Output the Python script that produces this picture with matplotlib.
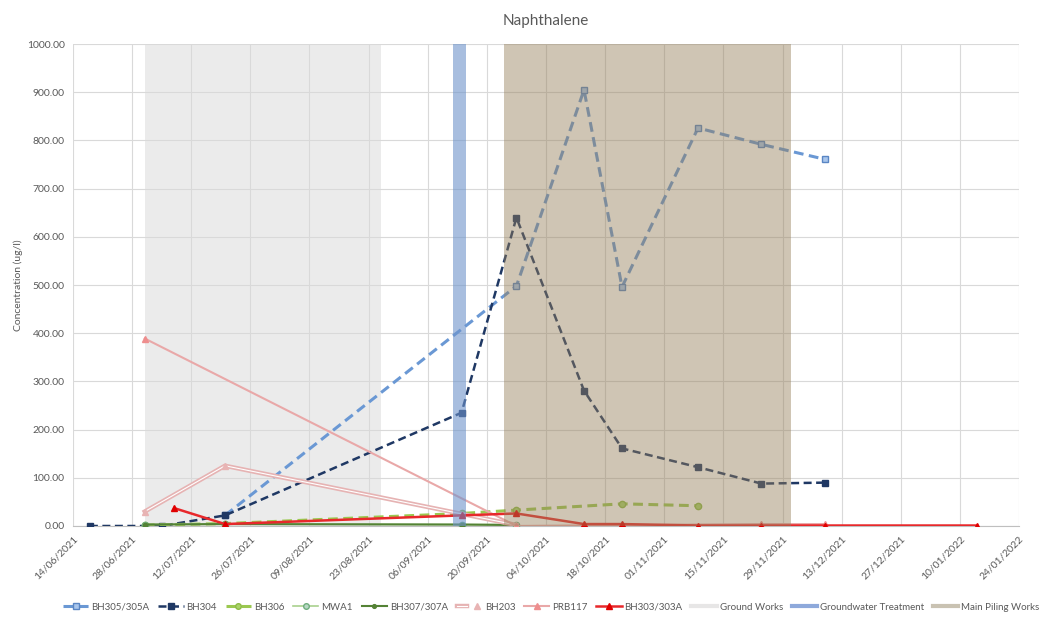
import matplotlib
matplotlib.use("Agg")
import matplotlib.pyplot as plt
import matplotlib.dates as mdates
import matplotlib.patheffects as pe
from matplotlib.lines import Line2D
from matplotlib.legend_handler import HandlerTuple
import pandas as pd

plt.rcParams['font.family'] = ['Lato', 'DejaVu Sans']

def d(lst):
    return pd.to_datetime(lst, format="%d/%m/%Y")

# ----- monitoring results (ug/l) -----
bh305_dates = ["20/07/2021", "27/09/2021", "13/10/2021", "22/10/2021", "09/11/2021", "24/11/2021", "09/12/2021"]
bh305_vals = [22, 498, 905, 496, 826, 792, 761]

bh304_dates = ["18/06/2021", "05/07/2021", "20/07/2021", "14/09/2021", "27/09/2021", "13/10/2021",
               "22/10/2021", "09/11/2021", "24/11/2021", "09/12/2021"]
bh304_vals = [0, 0, 22, 235, 640, 281, 161, 122, 88, 90]

bh306_dates = ["01/07/2021", "20/07/2021", "14/09/2021", "27/09/2021", "22/10/2021", "09/11/2021"]
bh306_vals = [2, 5, 26, 33, 46, 42]

mwa1_dates = ["01/07/2021", "20/07/2021", "14/09/2021", "27/09/2021"]
mwa1_vals = [3, 4, 3, 3]

bh307_dates = ["01/07/2021", "20/07/2021", "14/09/2021", "27/09/2021"]
bh307_vals = [3, 4, 3, 2]

bh203_dates = ["01/07/2021", "20/07/2021", "27/09/2021"]
bh203_vals = [30, 125, 2]

prb117_dates = ["01/07/2021", "27/09/2021", "24/11/2021", "09/12/2021"]
prb117_vals = [389, 0, 4, 4]

bh303_dates = ["08/07/2021", "20/07/2021", "14/09/2021", "27/09/2021", "13/10/2021", "22/10/2021",
               "09/11/2021", "24/11/2021", "09/12/2021", "14/01/2022"]
bh303_vals = [37, 4, 22, 26, 4, 4, 1, 1, 1, 1]

# site activity periods
ground_works = ("01/07/2021", "26/08/2021")
gw_treatment = ("12/09/2021", "15/09/2021")
main_piling = ("24/09/2021", "01/12/2021")

fig = plt.figure(figsize=(10.5, 6.17), dpi=100)
ax = fig.add_axes([0.0695, 0.1475, 0.901, 0.781])

ax.axvspan(*d(ground_works), color='#EBEBEB', zorder=0.5, lw=0)

dash = (3.2, 1.8)
ax.plot(d(bh305_dates), bh305_vals, color='#6A98D4', lw=2.2, dashes=dash, marker='s', ms=4.5,
        mfc='#A9C6EC', mec='#5A86C4', zorder=3, label='BH305/305A')
ax.plot(d(bh304_dates), bh304_vals, color='#1F3864', lw=1.8, dashes=dash, marker='s', ms=4.5,
        mfc='#1F3864', mec='#1F3864', zorder=3, label='BH304')
ax.plot(d(bh306_dates), bh306_vals, color='#9BC850', lw=2.2, dashes=dash, marker='o', ms=4.5,
        mfc='#A9D36A', mec='#8DBB45', zorder=3, label='BH306')
ax.plot(d(mwa1_dates), mwa1_vals, color='#A9D18E', lw=1.2, marker='o', ms=4.5,
        mfc='#B8D8C4', mec='#6FAE7E', zorder=3, label='MWA1')
ax.plot(d(bh307_dates), bh307_vals, color='#548235', lw=1.5, marker='o', ms=3,
        mfc='#548235', mec='#548235', zorder=3, label='BH307/307A')

# BH203: double (compound) line, markers drawn separately so they keep their size
bh203_line, = ax.plot(d(bh203_dates), bh203_vals, color='white', lw=0.8, zorder=3,
                      path_effects=[pe.Stroke(linewidth=3.2, foreground='#E6B3B3'), pe.Normal()])
bh203_mk, = ax.plot(d(bh203_dates), bh203_vals, ls='none', marker='^', ms=4.5,
                    mfc='#E8B4B4', mec='#E8B4B4', zorder=3)

ax.plot(d(prb117_dates), prb117_vals, color='#E9A8A8', lw=1.5, marker='^', ms=4.5,
        mfc='#EE8E8E', mec='#EE8E8E', zorder=3, label='PRB117')
ax.plot(d(bh303_dates), bh303_vals, color='#E8282B', lw=1.8, marker='^', ms=5,
        mfc='#E00000', mec='#E00000', zorder=3, label='BH303/303A')

# treatment and piling drawn semi-transparent over the series
ax.axvspan(*d(gw_treatment), color='#6E93CB', alpha=0.6, zorder=4, lw=0)
ax.axvspan(*d(main_piling), color='#957F59', alpha=0.45, zorder=4, lw=0)

ax.set_xlim(pd.Timestamp("2021-06-14"), pd.Timestamp("2022-01-24"))
ax.set_ylim(0, 1000)
ax.set_xticks(pd.date_range("2021-06-14", "2022-01-24", freq="14D"))
ax.xaxis.set_major_formatter(mdates.DateFormatter("%d/%m/%Y"))
ax.set_yticks(range(0, 1001, 100))
ax.yaxis.set_major_formatter(matplotlib.ticker.FormatStrFormatter("%.2f"))
plt.setp(ax.get_xticklabels(), rotation=45, ha='right', rotation_mode='anchor')
ax.tick_params(axis='both', length=0, labelsize=7.5, colors='#595959')
ax.tick_params(axis='x', pad=6)
ax.tick_params(axis='y', pad=6)

ax.grid(True, color='#D9D9D9', lw=0.8, zorder=1)
ax.set_axisbelow(True)
for s in ['top', 'right', 'left']:
    ax.spines[s].set_visible(False)
ax.spines['bottom'].set_color('#BFBFBF')

ax.set_title("Naphthalene", fontsize=11, color='#595959', pad=14)
ax.set_ylabel("Concentration (ug/l)", fontsize=7.5, color='#595959', labelpad=3)

handles, labels = ax.get_legend_handles_labels()
handles.insert(5, (bh203_line, bh203_mk))
labels.insert(5, 'BH203')
handles += [Line2D([], [], color='#E7E6E6', lw=3),
            Line2D([], [], color='#8EA9DB', lw=3),
            Line2D([], [], color='#C9C2B2', lw=3)]
labels += ["Ground Works", "Groundwater Treatment", "Main Piling Works"]
leg = fig.legend(handles, labels, loc='center', bbox_to_anchor=(0.525, 0.016), ncol=11,
                 frameon=False, fontsize=7, handlelength=2.6, columnspacing=0.9,
                 handletextpad=0.3, markerscale=0.9,
                 handler_map={tuple: HandlerTuple(ndivide=None)})
for t in leg.get_texts():
    t.set_color('#595959')

fig.savefig("out.png", dpi=100)
